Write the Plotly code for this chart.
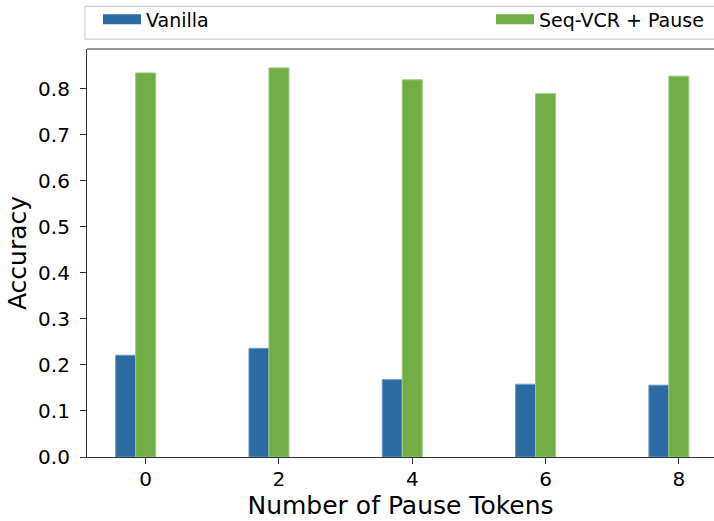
import plotly.graph_objects as go

# ---- data ----
pause_tokens = [0, 2, 4, 6, 8]
vanilla = [0.221, 0.236, 0.168, 0.158, 0.156]
seq_vcr_pause = [0.834, 0.845, 0.819, 0.789, 0.827]
series_names = ["Vanilla", "Seq-VCR + Pause"]
y_ticks = [0.0, 0.1, 0.2, 0.3, 0.4, 0.5, 0.6, 0.7, 0.8]

BLUE = "#2c6ba2"
BLUE_EDGE = "#6b9ac6"
GREEN = "#70ad47"
GREEN_EDGE = "#9acb7a"
FONT = "DejaVu Sans"

W, H = 714, 521
ML, MR, MT, MB = 87, 0, 45, 64
plot_w = W - ML - MR
plot_h = H - MT - MB

def px_x(p):
    return (p - ML) / plot_w

def px_y(p):
    return (H - MB - p) / plot_h

bar_w = 0.3
fig = go.Figure()
fig.add_trace(go.Bar(
    x=pause_tokens, y=vanilla, width=bar_w, offset=-1.5 * bar_w,
    marker=dict(color=BLUE, line=dict(color=BLUE_EDGE, width=1)),
    name=series_names[0], legendgroup="v", showlegend=False,
))
fig.add_trace(go.Bar(
    x=pause_tokens, y=seq_vcr_pause, width=bar_w, offset=-0.5 * bar_w,
    marker=dict(color=GREEN, line=dict(color=GREEN_EDGE, width=1)),
    name=series_names[1], legendgroup="s", showlegend=False,
))
# legend entries (patch-like swatches)
fig.add_trace(go.Scatter(
    x=[None], y=[None], mode="lines", line=dict(color=BLUE, width=13),
    name=series_names[0], legendgroup="v", legend="legend",
))
fig.add_trace(go.Scatter(
    x=[None], y=[None], mode="lines", line=dict(color=GREEN, width=13),
    name=series_names[1], legendgroup="s", legend="legend2",
))

x_lo = -0.88
unit_px = 133.3 / 2
x_hi = x_lo + plot_w / unit_px

axis_line = dict(showline=True, linecolor="#333333", linewidth=1.2)

fig.update_layout(
    width=W, height=H,
    margin=dict(l=ML, r=MR, t=MT, b=MB, pad=0),
    paper_bgcolor="white", plot_bgcolor="white",
    barmode="overlay",
    font=dict(family=FONT, color="black"),
    xaxis=dict(
        range=[x_lo, x_hi], tickvals=pause_tokens, ticktext=[str(v) for v in pause_tokens],
        ticks="outside", ticklen=6, tickcolor="#333333", tickwidth=1.2,
        tickfont=dict(size=20, family=FONT), showgrid=False, zeroline=False,
        ticklabelstandoff=-2,
        title=dict(text="Number of Pause Tokens", font=dict(size=25, family=FONT), standoff=6),
        **axis_line,
    ),
    yaxis=dict(
        range=[0, 0.886], tickvals=y_ticks, tickformat=".1f",
        ticks="outside", ticklen=6, tickcolor="#333333", tickwidth=1.2,
        tickfont=dict(size=20, family=FONT), showgrid=False, zeroline=False,
        ticklabelstandoff=6,
        title=dict(text="Accuracy", font=dict(size=25, family=FONT), standoff=4),
        **axis_line,
    ),
    legend=dict(
        orientation="h", x=px_x(98), y=px_y(-4), xanchor="left", yanchor="top",
        bgcolor="rgba(0,0,0,0)", borderwidth=0, itemwidth=38,
        font=dict(size=19, family=FONT),
    ),
    legend2=dict(
        orientation="h", x=px_x(491), y=px_y(-4), xanchor="left", yanchor="top",
        bgcolor="rgba(0,0,0,0)", borderwidth=0, itemwidth=38,
        font=dict(size=19, family=FONT),
    ),
    shapes=[
        # top spine
        dict(type="line", xref="paper", yref="paper", x0=0, x1=1, y0=1, y1=1,
             line=dict(color="#333333", width=1.2)),
        # legend frame
        dict(type="rect", xref="paper", yref="paper",
             x0=px_x(85), x1=px_x(720), y0=px_y(35), y1=px_y(2),
             line=dict(color="#d0d0d0", width=1.2), fillcolor="rgba(255,255,255,0.8)",
             layer="below"),
    ],
)

fig.write_html(
    "out.html",
    config={"displayModeBar": False},
    post_script="document.body.style.margin='0';document.body.style.overflow='hidden';",
)
